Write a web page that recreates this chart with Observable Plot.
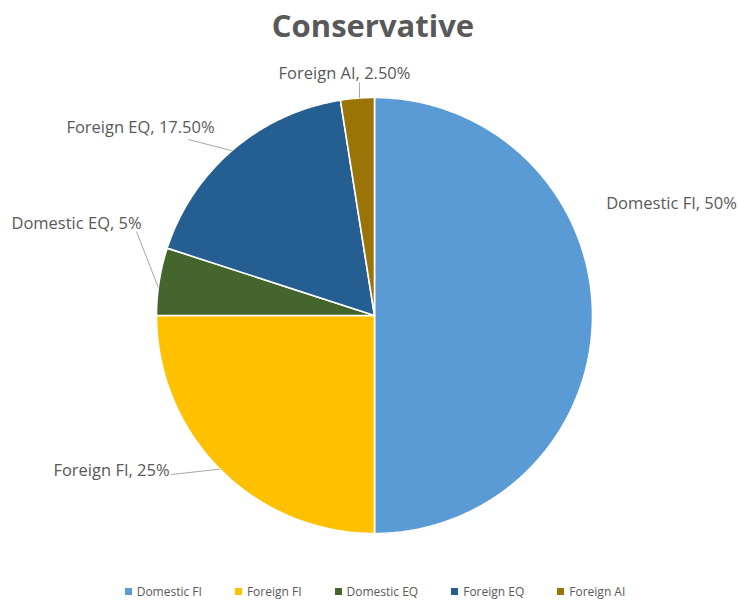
<!DOCTYPE html>
<html>
<head>
<meta charset="utf-8">
<script src="https://cdn.jsdelivr.net/npm/d3@7"></script>
<script src="https://cdn.jsdelivr.net/npm/@observablehq/plot@0.6"></script>
<style>
  html, body { margin: 0; padding: 0; background: #fff; }
  body { width: 738px; height: 603px; overflow: hidden; font-family: "Open Sans", sans-serif; }
  #title { height: 50px; line-height: 50px; text-align: center; font-weight: bold; font-size: 31px; color: #595959; padding-left: 8px; }
  #legend { display: flex; justify-content: center; align-items: center; gap: 33px; height: 24px; padding-top: 9px; font-size: 12px; color: #595959; padding-left: 12px; }
  #legend .item { display: flex; align-items: center; gap: 5px; }
  #legend .sw { width: 7px; height: 7px; display: inline-block; }
</style>
</head>
<body>
<div id="title">Conservative</div>
<div id="chart"></div>
<div id="legend"></div>
<script>
// ---- data ----
const categories = ["Domestic FI", "Foreign FI", "Domestic EQ", "Foreign EQ", "Foreign AI"];
const shares = [50, 25, 5, 17.5, 2.5];
const labelText = ["Domestic FI, 50%", "Foreign FI, 25%", "Domestic EQ, 5%", "Foreign EQ, 17.50%", "Foreign AI, 2.50%"];
const colors = ["#5B9BD5", "#FFC000", "#44662C", "#255E91", "#9A7406"];

// ---- layout ----
const W = 738, H = 520;
const cx = 374, cy = 265, R = 218;
// label centres and leader lines (leader start point, target angle on the rim in degrees clockwise from top)
const labelX = [671, 111, 76, 140, 344];
const labelY = [153, 420, 173, 77, 23];
const leaderFrom = [null, [171, 424], [136, 181], [188, 89], [359, 32]];
const leaderAngle = [null, 225.2, 277.4, 319.1, 356.06];

const pie = d3.pie().sort(null).value(d => d.share);
const rows = categories.map((c, i) => ({name: c, share: shares[i]}));
const arcs = pie(rows);

const pt = a => [cx + R * Math.sin(a), cy - R * Math.cos(a)];

const slicePts = [];
arcs.forEach(a => {
  slicePts.push({name: a.data.name, x: cx, y: cy});
  const n = Math.max(2, Math.ceil((a.endAngle - a.startAngle) / 0.01));
  for (let k = 0; k <= n; k++) {
    const t = a.startAngle + (a.endAngle - a.startAngle) * k / n;
    const [x, y] = pt(t);
    slicePts.push({name: a.data.name, x, y});
  }
  slicePts.push({name: a.data.name, x: cx, y: cy});
});

const labels = categories.map((c, i) => ({name: c, text: labelText[i], x: labelX[i], y: labelY[i]}));
const leaders = categories.map((c, i) => {
  if (!leaderFrom[i]) return null;
  const [x2, y2] = pt(leaderAngle[i] * Math.PI / 180);
  return {x1: leaderFrom[i][0], y1: leaderFrom[i][1], x2, y2};
}).filter(d => d);

const chart = Plot.plot({
  width: W, height: H,
  margin: 0,
  style: {fontFamily: "Open Sans, sans-serif", background: "white"},
  x: {domain: [0, W], range: [0, W], axis: null},
  y: {domain: [0, H], range: [0, H], axis: null},
  color: {domain: categories, range: colors},
  marks: [
    Plot.line(slicePts, {x: "x", y: "y", z: "name", fill: "name", stroke: "white", strokeWidth: 1.6, strokeLinejoin: "miter"}),
    Plot.link(leaders, {x1: "x1", y1: "y1", x2: "x2", y2: "y2", stroke: "#a6a6a6", strokeWidth: 1}),
    Plot.text(labels, {x: "x", y: "y", text: "text", fontSize: 16.5, fill: "#595959", textAnchor: "middle"})
  ]
});
document.getElementById("chart").appendChild(chart);

const legend = document.getElementById("legend");
categories.forEach((c, i) => {
  const it = document.createElement("span");
  it.className = "item";
  it.innerHTML = `<span class="sw" style="background:${colors[i]}"></span><span>${c}</span>`;
  legend.appendChild(it);
});
</script>
</body>
</html>
